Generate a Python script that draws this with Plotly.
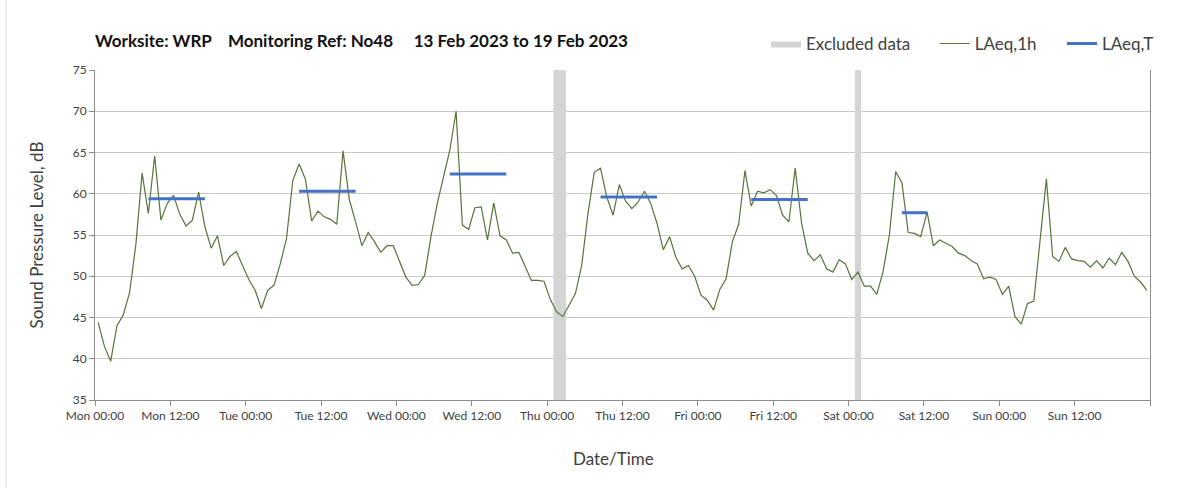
import pandas as pd
import plotly.graph_objects as go

# Hourly LAeq,1h values (dB), Mon 13 Feb 00:00-01:00 through Sun 19 Feb 23:00-24:00
laeq_1h = [
    # Mon
    44.4, 41.5, 39.7, 44.0, 45.3, 48.0, 53.8, 62.5, 57.6, 64.6, 56.8, 58.8,
    59.8, 57.5, 56.1, 56.8, 60.2, 56.0, 53.4, 54.9, 51.3, 52.4, 53.0, 51.3,
    # Tue
    49.6, 48.3, 46.1, 48.3, 48.9, 51.5, 54.6, 61.6, 63.6, 61.8, 56.7, 57.9,
    57.2, 56.9, 56.3, 65.2, 59.3, 56.6, 53.7, 55.3, 54.2, 52.9, 53.7, 53.7,
    # Wed
    51.7, 49.9, 48.9, 49.0, 50.1, 54.8, 58.8, 62.0, 65.3, 70.0, 56.2, 55.7,
    58.3, 58.4, 54.4, 58.9, 54.9, 54.4, 52.8, 52.9, 51.3, 49.5, 49.5, 49.4,
    # Thu
    47.2, 45.7, 45.1, 46.5, 47.9, 51.3, 57.6, 62.6, 63.1, 59.6, 57.4, 61.1,
    59.1, 58.2, 59.0, 60.3, 58.8, 56.4, 53.2, 54.8, 52.3, 50.9, 51.3, 50.0,
    # Fri
    47.7, 47.1, 45.9, 48.4, 49.7, 54.2, 56.3, 62.8, 58.5, 60.3, 60.1, 60.5,
    59.8, 57.4, 56.6, 63.1, 56.5, 52.8, 51.9, 52.6, 50.9, 50.5, 52.0, 51.5,
    # Sat
    49.6, 50.5, 48.8, 48.8, 47.8, 50.6, 55.0, 62.7, 61.3, 55.3, 55.2, 54.8,
    57.8, 53.7, 54.4, 54.0, 53.6, 52.8, 52.5, 51.9, 51.5, 49.7, 49.9, 49.6,
    # Sun
    47.8, 48.8, 45.1, 44.2, 46.7, 47.0, 54.2, 61.8, 52.4, 51.8, 53.5, 52.1,
    51.9, 51.8, 51.1, 51.9, 51.0, 52.2, 51.4, 52.9, 51.8, 50.0, 49.3, 48.3,
]

# Each hourly value is plotted at the middle of its hour
hour_times = pd.date_range("2023-02-13 00:30", periods=len(laeq_1h), freq="h")

# Period averages LAeq,T (dB), drawn across the hourly points they cover
laeqT_start = ["2023-02-13 08:30", "2023-02-14 08:30", "2023-02-15 08:30",
               "2023-02-16 08:30", "2023-02-17 08:30", "2023-02-18 08:30"]
laeqT_end = ["2023-02-13 17:30", "2023-02-14 17:30", "2023-02-15 17:30",
             "2023-02-16 17:30", "2023-02-17 17:30", "2023-02-18 12:30"]
laeqT_values = [59.4, 60.3, 62.4, 59.6, 59.3, 57.7]

# Hours excluded from the assessment
excluded_start = ["2023-02-16 01:00", "2023-02-18 01:00"]
excluded_end = ["2023-02-16 03:00", "2023-02-18 02:00"]

# Axis settings
y_min, y_max = 35, 75
x_start, x_end = "2023-02-13 00:00", "2023-02-20 00:00"
tick_times = pd.date_range(x_start, x_end, freq="12h")
tick_labels = ["Mon 00:00", "Mon 12:00", "Tue 00:00", "Tue 12:00", "Wed 00:00",
               "Wed 12:00", "Thu 00:00", "Thu 12:00", "Fri 00:00", "Fri 12:00",
               "Sat 00:00", "Sat 12:00", "Sun 00:00", "Sun 12:00", ""]

FONT = "Lato"
TXT = "#404040"
AXIS = "#8c8c8c"

fig = go.Figure()

# Excluded periods as full-height grey bands
ex_x, ex_y = [], []
for s, e in zip(excluded_start, excluded_end):
    ex_x += [s, s, e, e, s, None]
    ex_y += [y_min, y_max, y_max, y_min, y_min, None]
fig.add_trace(go.Scatter(
    x=ex_x, y=ex_y, mode="lines", fill="toself",
    fillcolor="#d4d4d4", line=dict(width=0, color="#d4d4d4"),
    name="Excluded data", hoverinfo="skip", legend="legend2",
))

fig.add_trace(go.Scatter(
    x=hour_times, y=laeq_1h, mode="lines",
    line=dict(color="#56743a", width=1.2),
    name="LAeq,1h", legend="legend3",
))

seg_x, seg_y = [], []
for s, e, v in zip(laeqT_start, laeqT_end, laeqT_values):
    seg_x += [s, e, None]
    seg_y += [v, v, None]
fig.add_trace(go.Scatter(
    x=seg_x, y=seg_y, mode="lines",
    line=dict(color="#4472c4", width=3),
    name="LAeq,T", legend="legend4",
))


def legend_box(x):
    return dict(
        orientation="h", x=x, xanchor="left", y=1.079, yanchor="middle",
        font=dict(family=FONT, size=17, color=TXT),
        bgcolor="rgba(0,0,0,0)",
    )


fig.update_layout(
    width=1203, height=488,
    margin=dict(l=95, r=53, t=70, b=88),
    plot_bgcolor="white", paper_bgcolor="white",
    font=dict(family=FONT, color=TXT),
    title=dict(
        text="<b>Worksite: WRP    Monitoring Ref: No48     13 Feb 2023 to 19 Feb 2023</b>",
        font=dict(family=FONT, size=17, color="#111111"),
        x=95 / 1203, xanchor="left", xref="container",
        y=1 - 41 / 488, yanchor="middle", yref="container",
    ),
    legend2=legend_box(0.636),
    legend3=legend_box(0.796),
    legend4=legend_box(0.9166),
    xaxis=dict(
        type="date", range=[x_start, x_end],
        tickvals=tick_times, ticktext=tick_labels,
        ticks="outside", ticklen=5, tickcolor=AXIS,
        showgrid=False, showline=True, linecolor=AXIS, linewidth=1,
        tickfont=dict(family=FONT, size=12, color=TXT),
        zeroline=False,
    ),
    xaxis2=dict(
        type="date", range=[x_start, x_end], overlaying="x", anchor="y",
        tick0=x_start, dtick=24 * 3600 * 1000,
        showgrid=True, gridcolor="#e2e2e2", gridwidth=1.5,
        showticklabels=False, ticks="", showline=False, zeroline=False,
    ),
    yaxis=dict(
        range=[y_min, y_max], dtick=5,
        showgrid=True, gridcolor="#c8c8c8", gridwidth=1,
        showline=True, linecolor=AXIS, linewidth=1, mirror=True,
        ticks="outside", ticklen=5, tickcolor=AXIS,
        tickfont=dict(family=FONT, size=12, color=TXT),
        title=dict(text="Sound Pressure Level, dB",
                   font=dict(family=FONT, size=17, color=TXT), standoff=24),
        zeroline=False,
    ),
    annotations=[dict(
        text="Date/Time", xref="paper", yref="paper",
        x=0.491, y=-0.176, xanchor="center", yanchor="middle",
        showarrow=False, font=dict(family=FONT, size=17, color=TXT),
    )],
    shapes=[dict(
        type="line", xref="paper", yref="paper",
        x0=-0.0844, x1=-0.0844, y0=-0.27, y1=1.22,
        line=dict(color="#d9d9d9", width=1),
    )],
)

fig.write_html("out.html")
